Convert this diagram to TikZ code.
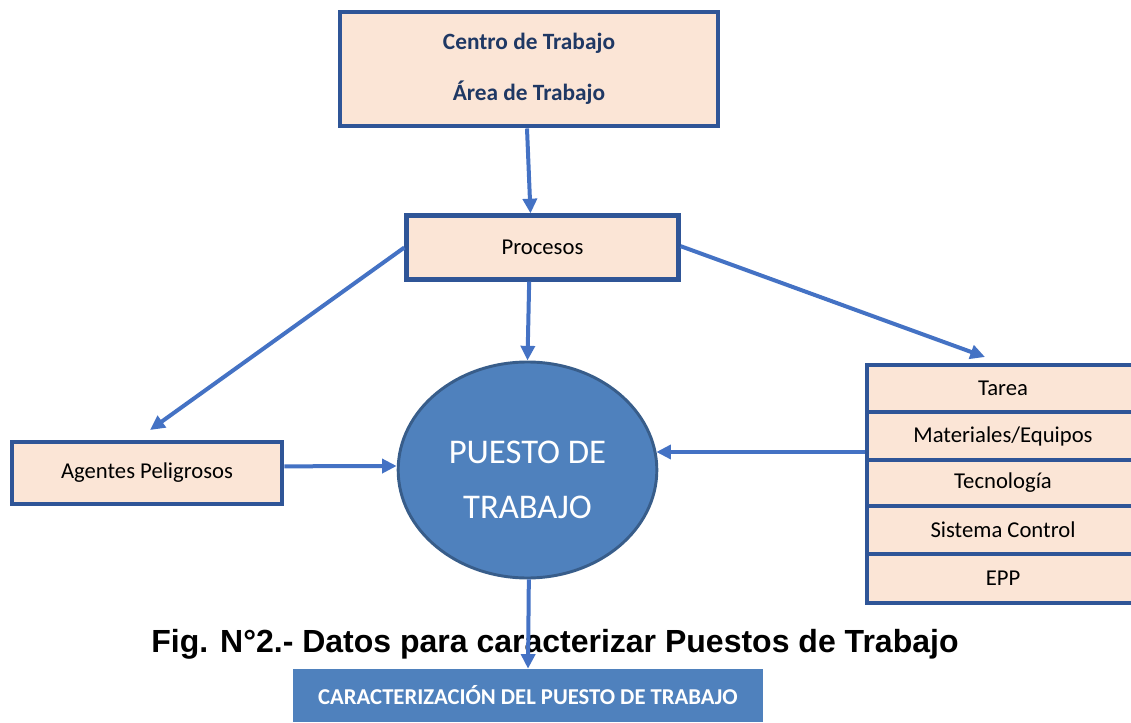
\documentclass[tikz,border=0pt]{standalone}
\usepackage{fontspec}
\setmainfont{Carlito}
\newfontfamily\arialfont{Liberation Sans}
\usetikzlibrary{arrows.meta,shapes.geometric,calc}
\definecolor{bordblue}{HTML}{2F5597}
\definecolor{arrblue}{HTML}{4472C4}
\definecolor{peach}{HTML}{FBE5D6}
\definecolor{ellblue}{HTML}{4F81BD}
\definecolor{ellbord}{HTML}{385D8A}
\definecolor{navy}{HTML}{1F3864}
\tikzset{
  box/.style={draw=bordblue, line width=3.2pt, fill=peach, inner sep=0pt, align=center,
    font=\fontsize{17}{20}\selectfont},
  rowbox/.style={box, minimum width=204pt},
  arr/.style={draw=arrblue, line width=3pt, -{Triangle[length=11pt,width=10.5pt]}},
}
\begin{document}
\begin{tikzpicture}[x=0.75pt,y=-0.75pt]
\useasboundingbox (0,0) rectangle (1131,723);
\clip (0,0) rectangle (1131,723);
% top box
\node[box, minimum width=284pt, minimum height=86pt, text=navy,
  font=\fontsize{17.5}{38}\selectfont\bfseries] (top) at (529,69) {Centro de Trabajo\\Área de Trabajo};
% procesos
\node[box, minimum width=204pt, minimum height=48pt] (proc) at (542.5,247.5) {Procesos};
% agentes
\node[box, minimum width=203pt, minimum height=47pt] (agen) at (147,473) {Agentes Peligrosos};
% ellipse
\node[ellipse, draw=ellbord, line width=2.2pt, fill=ellblue, minimum width=194pt, minimum height=162pt,
  inner sep=0pt,
  label={[text=white, align=center, inner sep=0pt, yshift=-7.5pt, font=\fontsize{26}{41}\selectfont]center:PUESTO DE\\TRABAJO}] (pt) at (527.5,470) {};
% right stack
\node[rowbox, minimum height=35pt] (r1) at (1003,388.5) {Tarea};
\node[rowbox, minimum height=36pt] (r2) at (1003,436) {Materiales/Equipos};
\node[rowbox, minimum height=34.5pt] (r3) at (1003,483) {Tecnología};
\node[rowbox, minimum height=36pt] (r4) at (1003,530) {Sistema Control};
\node[rowbox, minimum height=37pt] (r5) at (1003,578.5) {EPP};
% banner
\node[fill=ellblue, minimum width=352.5pt, minimum height=39.75pt, inner sep=0pt, text=white,
  font=\fontsize{17}{20}\selectfont\bfseries] (ban) at (528,695.5) {CARACTERIZACIÓN DEL PUESTO DE TRABAJO};
% title
\node[font=\arialfont\fontsize{24}{28}\selectfont\bfseries, inner sep=0pt, anchor=base] (title) at (555,652)
  {Fig. N°2.- Datos para caracterizar Puestos de Trabajo};
% free ends
\coordinate (agtop) at (150,430);
\coordinate (stacktop) at (985,357);
% arrows
\draw[arr] ([xshift=-1.5pt]top.south) -- ([xshift=-9pt]proc.north);
\draw[arr] ([xshift=-10pt]proc.south) -- (pt.north);
\draw[arr] ([yshift=0pt]proc.west) -- (agtop);
\draw[arr] ([yshift=1pt]proc.east) -- (stacktop);
\draw[arr] ([yshift=5pt]agen.east) -- (pt.west |- 0,466);
\draw[arr] ([yshift=-12pt]r2.west) -- ($(pt.east |- 0,452)+(-2,0)$);
\draw[arr] ([xshift=1pt]pt.south) -- (ban.north);
\end{tikzpicture}
\end{document}
